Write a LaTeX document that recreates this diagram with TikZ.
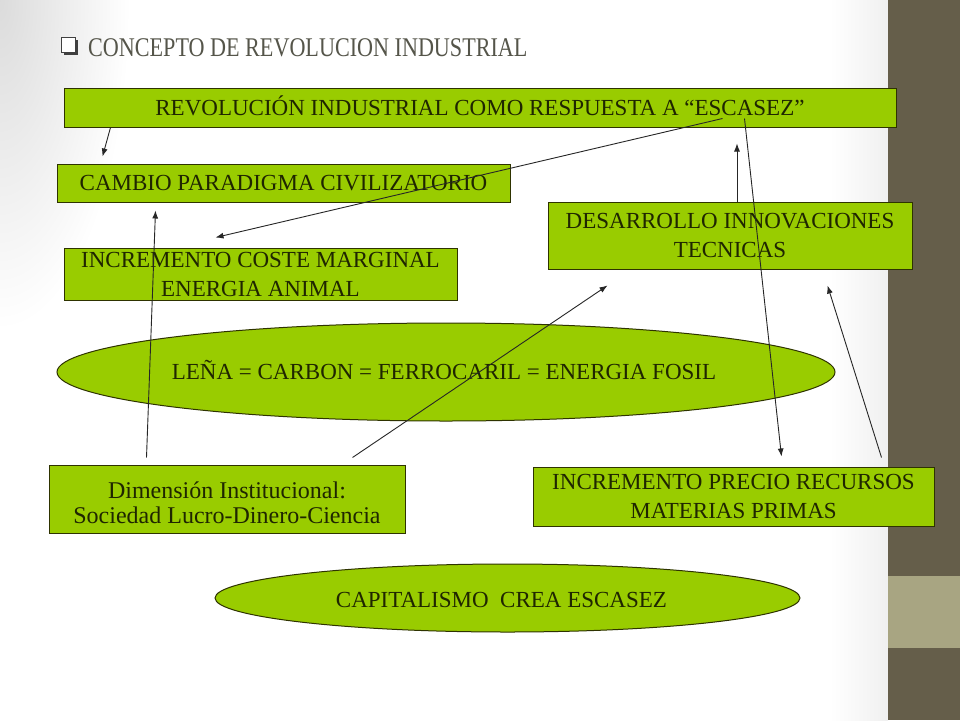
\documentclass[tikz,border=0pt]{standalone}
\usepackage{fontspec}
\setmainfont{Liberation Serif}
\newfontfamily\titlefont[FakeStretch=0.82]{Liberation Serif}
\usetikzlibrary{arrows.meta,calc,shapes.geometric}
\definecolor{boxgreen}{HTML}{99CC00}
\definecolor{boxline}{HTML}{2E3300}
\definecolor{txtcol}{HTML}{1F2600}
\definecolor{titlecol}{HTML}{55554A}
\definecolor{bardark}{HTML}{655E4A}
\definecolor{barlight}{HTML}{A8A582}
\definecolor{arrcol}{HTML}{262626}
\tikzset{
  gbox/.style={draw=boxline, fill=boxgreen, line width=1pt, inner sep=0pt,
    text=txtcol, font=\fontsize{23}{29}\selectfont, align=center},
  oneline/.style={text height=15.5pt, text depth=0pt},
  gell/.style={ellipse, draw=boxline, fill=boxgreen, line width=1pt, inner sep=0pt},
  ell txt/.style={inner sep=0pt, text=txtcol, font=\fontsize{23}{29}\selectfont,
    text height=15.5pt, text depth=0pt},
  arr/.style={draw=arrcol, line width=0.9pt, -{Latex[length=8pt,width=6pt]}}
}
\begin{document}
\begin{tikzpicture}[x=1pt,y=-1pt]
\useasboundingbox (0,0) rectangle (960,720);
% background
\fill[white] (0,0) rectangle (960,720);
\begin{scope}
\clip (0,0) rectangle (888,720);
\shade[inner color=black!14, outer color=white] (0,0) ellipse (130pt and 330pt);
\shade[left color=white, right color=black!6] (830,0) rectangle (888,720);
\end{scope}
% right bar
\fill[bardark] (888,0) rectangle (960,720);
\fill[barlight] (888,576) rectangle (960,648);
% title with bullet
\fill[black!75] (63.5,39.5) rectangle (78,55);
\draw[fill=white, draw=black!75, line width=0.8pt] (61,37) rectangle (75,52);
\node[anchor=base west, inner sep=0pt, text=titlecol,
      font=\titlefont\fontsize{27}{30}\selectfont] (title) at (88,56)
      {CONCEPTO DE REVOLUCION INDUSTRIAL};
% boxes
\node[gbox, oneline, minimum width=832pt, minimum height=39pt] (rev) at (480,107.5)
  {REVOLUCIÓN INDUSTRIAL COMO RESPUESTA A “ESCASEZ”};
\node[gbox, oneline, minimum width=453pt, minimum height=38pt] (cambio) at (283.5,183)
  {CAMBIO PARADIGMA CIVILIZATORIO};
\node[gbox, minimum width=393pt, minimum height=52pt] (coste) at (260.5,274)
  {INCREMENTO COSTE MARGINAL\\ENERGIA ANIMAL};
\node[gbox, minimum width=364pt, minimum height=67pt] (desarrollo) at (730,235.5)
  {DESARROLLO INNOVACIONES\\TECNICAS};
\node[gell, minimum width=778pt, minimum height=98pt] (lena) at (446,372) {};
\node[ell txt] (lenatxt) at ($(lena)+(-2,0)$)
  {LEÑA = CARBON = FERROCARIL = ENERGIA FOSIL};
\node[gbox, minimum width=356pt, minimum height=68pt] (dimension) at (227,499) {};
\node[inner sep=0pt, text=txtcol, align=center, font=\fontsize{24}{25.5}\selectfont]
  (dimtxt) at ($(dimension)+(0,4)$)
  {Dimensión Institucional:\\Sociedad Lucro-Dinero-Ciencia};
\node[gbox, minimum width=401pt, minimum height=59pt] (precio) at (733.5,496.5)
  {INCREMENTO PRECIO RECURSOS\\MATERIAS PRIMAS};
\node[gell, minimum width=585pt, minimum height=68pt] (capital) at (507.5,598) {};
\node[ell txt] (capitaltxt) at ($(capital)+(-6,1.5)$)
  {CAPITALISMO\ \ CREA ESCASEZ};
% connectors
\draw[arr] ($(rev.south west)+(47,0)$) -- ($(cambio.north west)+(46,-7)$);
\draw[arr] ($(rev.south west)+(659,-9)$) -- ($(coste.north west)+(152,-10)$);
\draw[arr] ($(desarrollo.north)+(7,0)$) -- ($(rev.south)+(257,16)$);
\draw[arr] ($(rev.south west)+(681,-9)$) -- ($(precio.north west)+(249,-10)$);
\draw[arr] ($(dimension.north west)+(98,-7)$) -- ($(cambio.south west)+(99,8)$);
\draw[arr] ($(dimension.north west)+(304,-7)$) -- ($(desarrollo.south west)+(60,16)$);
\draw[arr] ($(precio.north west)+(349,-9)$) -- ($(desarrollo.south west)+(280,16)$);
\end{tikzpicture}
\end{document}
